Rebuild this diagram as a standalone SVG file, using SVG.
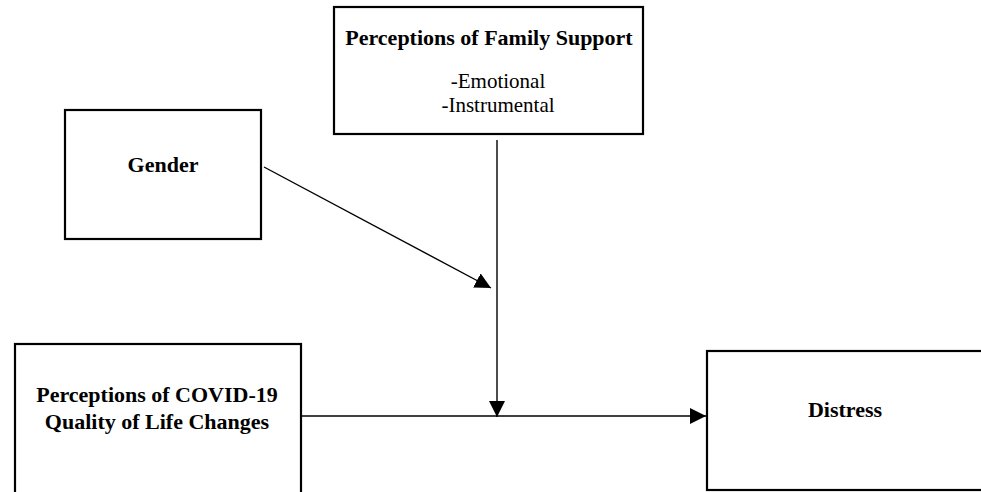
<svg xmlns="http://www.w3.org/2000/svg" width="981" height="492" viewBox="0 0 981 492">
<style>
.box{fill:#fff;stroke:#000;stroke-width:2.2}
.t{font-family:"Liberation Serif","Times New Roman",serif;font-size:22px;fill:#000;text-anchor:middle}
.s{font-size:21px}
.b{font-weight:bold}
.c{stroke:#000;stroke-width:1.4;fill:none}
</style>
<defs>
<marker id="ah" viewBox="0 0 10 10" refX="10" refY="5" markerWidth="16" markerHeight="16" markerUnits="userSpaceOnUse" orient="auto">
<path d="M0,0 L10,5 L0,10 Z" fill="#000"/>
</marker>
</defs>
<rect width="981" height="492" fill="#fff"/>
<g id="family">
<rect class="box" x="334" y="7" width="309" height="127"/>
<text class="t b" x="489" y="45">Perceptions of Family Support</text>
<text class="t s"><tspan x="498" y="88">-Emotional</tspan><tspan x="498" y="112">-Instrumental</tspan></text>
</g>
<g id="gender">
<rect class="box" x="65" y="110" width="196" height="129"/>
<text class="t b" x="163" y="172">Gender</text>
</g>
<g id="covid">
<rect class="box" x="15" y="344" width="286" height="160"/>
<text class="t b"><tspan x="157" y="402">Perceptions of COVID-19</tspan><tspan x="157" y="429">Quality of Life Changes</tspan></text>
</g>
<g id="distress">
<rect class="box" x="707" y="351" width="280" height="139"/>
<text class="t b" x="845" y="417">Distress</text>
</g>
<g id="connectors">
<line class="c" x1="264" y1="167" x2="491" y2="288" marker-end="url(#ah)"/>
<line class="c" x1="497" y1="140" x2="497" y2="417" marker-end="url(#ah)"/>
<line class="c" x1="301" y1="416" x2="706" y2="416" marker-end="url(#ah)"/>
</g>
</svg>
